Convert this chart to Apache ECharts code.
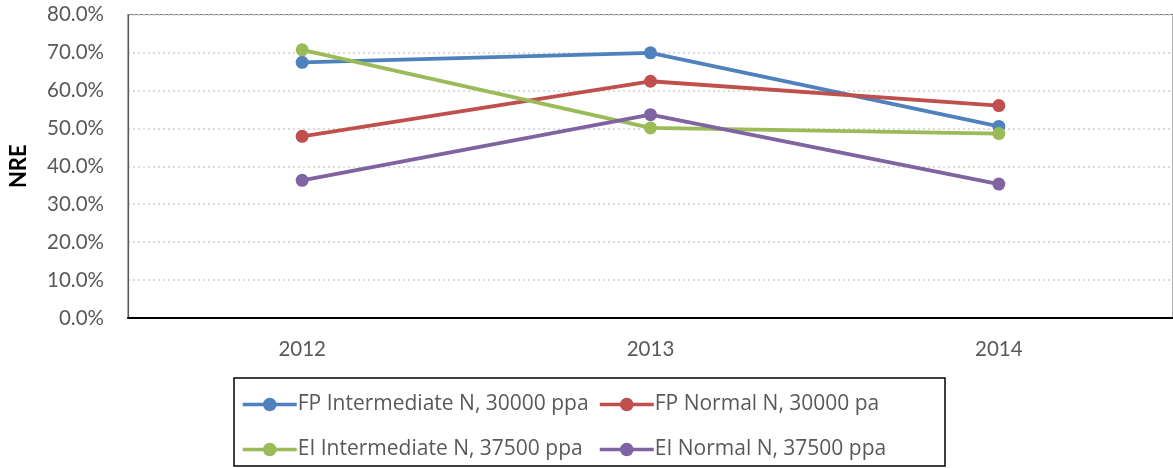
<!DOCTYPE html>
<html><head><meta charset="utf-8">
<script src="https://cdn.jsdelivr.net/npm/echarts@6/dist/echarts.min.js"></script>
<style>html,body{margin:0;padding:0;background:#fff}#c{width:1173px;height:468px}</style>
</head><body><div id="c"></div>
<script>
const categories = ['2012', '2013', '2014'];
const fpIntermediate = [67.4, 69.9, 50.5];
const fpNormal = [47.9, 62.4, 56.0];
const eiIntermediate = [70.7, 50.1, 48.6];
const eiNormal = [36.3, 53.6, 35.3];
const seriesNames = ['FP Intermediate N, 30000 ppa', 'FP Normal N, 30000 pa', 'EI Intermediate N, 37500 ppa', 'EI Normal N, 37500 ppa'];
const colors = ['#4F81BD', '#C0504D', '#9BBB59', '#8064A2'];
const values = [fpIntermediate, fpNormal, eiIntermediate, eiNormal];

const FONT = 'Lato';
const chart = echarts.init(document.getElementById('c'), null, {renderer: 'canvas'});
const legendPos = [[241, 406], [598, 406], [241, 451], [598, 451]];
chart.setOption({
  animation: false,
  textStyle: {fontFamily: FONT},
  grid: {left: 125, top: 14.5, width: 1056, bottom: 150, show: true, borderColor: '#7f7f7f', borderWidth: 1.2},
  xAxis: {
    type: 'category', data: categories, boundaryGap: true,
    axisLine: {lineStyle: {color: '#000', width: 2}},
    axisTick: {show: false},
    axisLabel: {color: '#595959', fontSize: 20.5, margin: 21, fontFamily: FONT}
  },
  yAxis: {
    type: 'value', min: 0, max: 80, interval: 10,
    name: 'NRE', nameLocation: 'middle', nameGap: 98, nameRotate: 90,
    nameTextStyle: {fontWeight: 'bold', fontSize: 22, color: '#000', fontFamily: FONT},
    axisLine: {show: true, lineStyle: {color: '#595959', width: 1.2}},
    axisTick: {show: false},
    axisLabel: {color: '#595959', fontSize: 20.5, margin: 24, fontFamily: FONT, formatter: v => v.toFixed(1) + '%'},
    splitLine: {show: true, lineStyle: {color: '#d0d0d0', type: [2, 3], width: 1.5}}
  },
  legend: legendPos.map((p, i) => ({
    data: [seriesNames[i]], left: p[0], top: p[1] - 12,
    itemWidth: 54, itemHeight: 17, itemGap: 0,
    lineStyle: {width: 3.5},
    textStyle: {color: '#595959', fontSize: 21, fontFamily: 'Open Sans', padding: [0, 0, 0, -4]},
    padding: 0
  })),
  graphic: [{type: 'rect', shape: {x: 234, y: 378, width: 711, height: 88}, style: {fill: 'none', stroke: '#000', lineWidth: 1.5}, silent: true}],
  series: values.map((v, i) => ({
    name: seriesNames[i], type: 'line', data: v, color: colors[i],
    symbol: 'circle', symbolSize: 13,
    lineStyle: {width: 3.8, color: colors[i]},
    itemStyle: {color: colors[i]}
  }))
});
</script></body></html>
